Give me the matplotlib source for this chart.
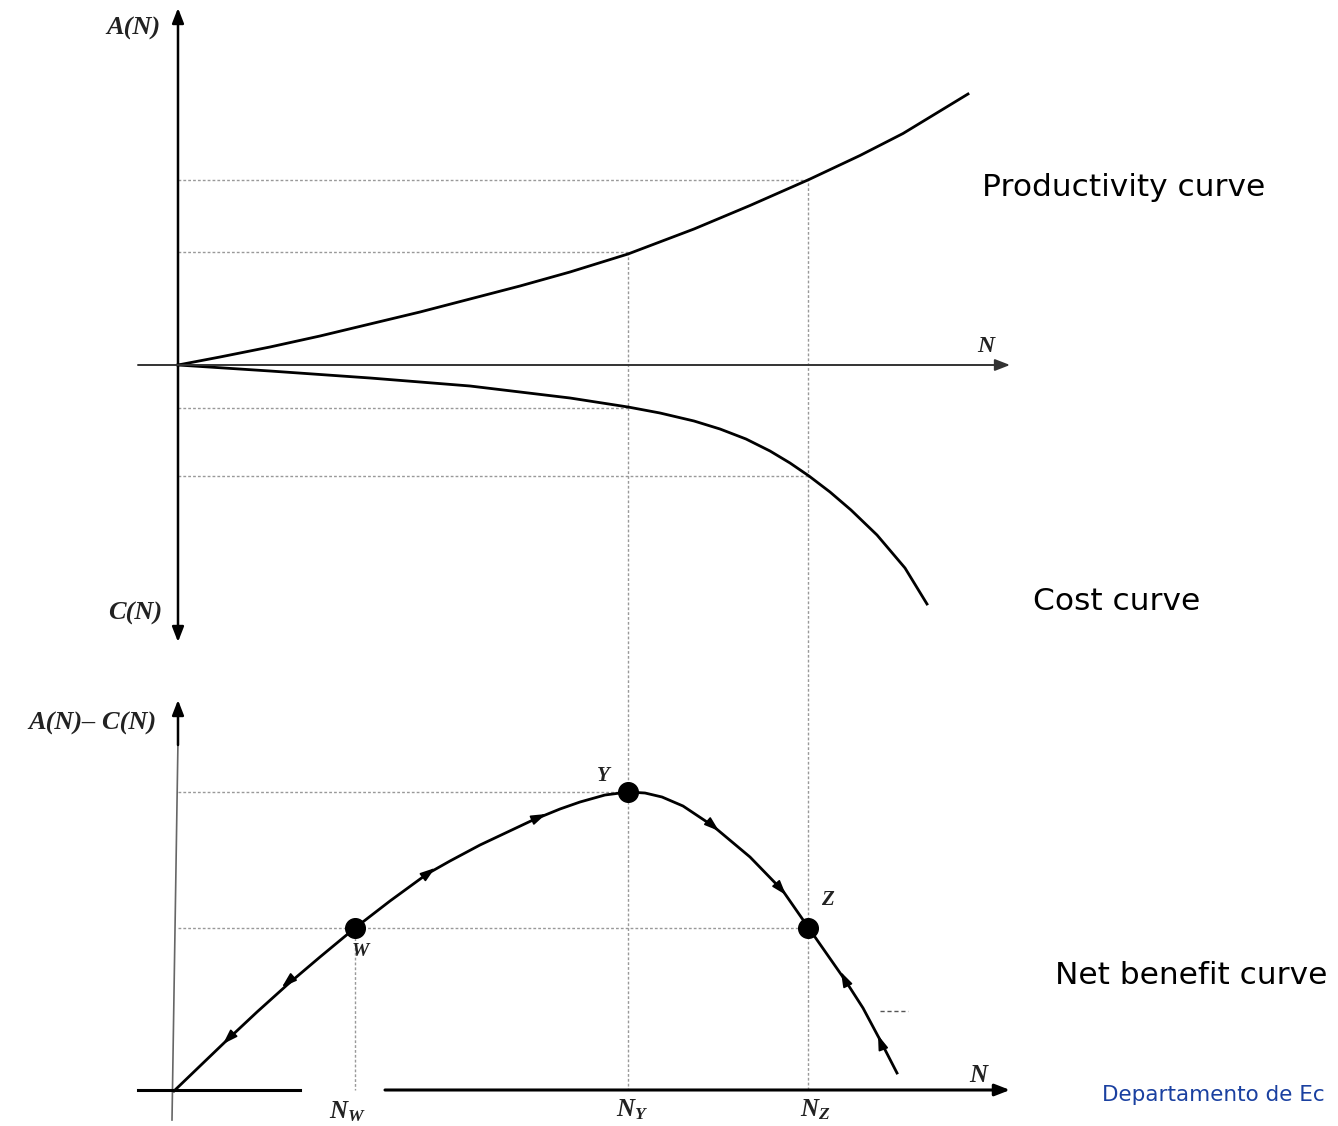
import matplotlib.pyplot as plt
import numpy as np

plt.rcParams['mathtext.fontset'] = 'custom'
plt.rcParams['mathtext.it'] = 'Liberation Serif:italic:bold'
plt.rcParams['mathtext.rm'] = 'Liberation Serif:bold'

# Curve points (pixel coordinates, y grows downward)
prod_x = [178, 220, 270, 320, 370, 420, 470, 520, 570, 628, 694, 750, 809, 860, 903, 968]
prod_y = [365, 357, 347, 336, 324, 312, 299, 286, 272, 254, 229, 205.5, 179.5, 155.5, 133.5, 94]

cost_x = [178, 270, 370, 470, 570, 628, 660, 694, 720, 746, 770, 790, 809, 830,
          851, 877, 905, 927]
cost_y = [365, 371, 378, 386, 398, 407, 413, 421, 429, 439, 451, 463, 476, 492,
          510, 535, 568, 604]

net_x = [174, 200, 225, 257, 287, 320, 355, 390, 427, 450, 480, 533, 560, 580, 605, 628,
         645, 662, 683, 713, 750, 783, 808, 845, 863, 879, 897]
net_y = [1091, 1066, 1042, 1012, 985, 957, 928, 901, 874, 861, 845, 820, 809, 802, 795, 792,
         793, 797, 806, 826, 857, 891, 927, 980, 1008, 1038, 1073]

# Flow arrows along the net benefit curve: (x, y, dx, dy)
arrows = [(290, 980, -8, 7), (230, 1037, -7, 7), (427, 874, 8, -6),
          (537, 818, 9, -4), (712, 825, 7, 6), (780, 888, 6, 7),
          (845, 980, -4, -8), (881, 1043, -3, -8)]

# Reference levels
level_x = [355, 628, 808]
level_y = [928, 792, 928]

fig = plt.figure(figsize=(13.38, 11.26), dpi=100)
ax = fig.add_axes([0, 0, 1, 1])
ax.set_xlim(0, 1338)
ax.set_ylim(1126, 0)
ax.axis('off')

lw_axis = 1.8
arrow_kw = dict(arrowstyle='-|>,head_length=0.9,head_width=0.35', color='black',
                lw=lw_axis, shrinkA=0, shrinkB=0)

# top panel axes
ax.annotate('', xy=(178, 8), xytext=(178, 365), arrowprops=arrow_kw)
ax.annotate('', xy=(178, 642), xytext=(178, 365), arrowprops=arrow_kw)
ax.annotate('', xy=(1010, 365), xytext=(138, 365), arrowprops=dict(arrow_kw, lw=1.4, color='#333333'))

# bottom panel axes
ax.plot([172, 178], [1120, 740], color='#666666', lw=1.2)
ax.annotate('', xy=(178, 700), xytext=(178, 745), arrowprops=arrow_kw)
ax.plot([138, 300], [1090, 1090], color='black', lw=2.2)
ax.annotate('', xy=(1010, 1090), xytext=(385, 1090), arrowprops=dict(arrow_kw, lw=2.2))

dot_kw = dict(color='#999999', lw=1.0, ls=(0, (2, 1.5)))
# top dotted guides
ax.plot([178, 808], [180, 180], **dot_kw)
ax.plot([178, 628], [252, 252], **dot_kw)
ax.plot([178, 628], [408, 408], **dot_kw)
ax.plot([178, 808], [476, 476], **dot_kw)
ax.plot([628, 628], [252, 1090], **dot_kw)
ax.plot([808, 808], [178, 1090], **dot_kw)
# bottom dotted guides
ax.plot([178, 628], [792, 792], **dot_kw)
ax.plot([178, 808], [928, 928], **dot_kw)
ax.plot([355, 355], [928, 1090], **dot_kw)
ax.plot([880, 908], [1011, 1011], color='#555555', lw=1.0, ls=(0, (3, 2)))

# curves
ax.plot(prod_x, prod_y, color='black', lw=2)
ax.plot(cost_x, cost_y, color='black', lw=2)
ax.plot(net_x, net_y, color='black', lw=2)

for x, y, dx, dy in arrows:
    ax.annotate('', xy=(x + dx, y + dy), xytext=(x, y),
                arrowprops=dict(arrowstyle='-|>,head_length=0.9,head_width=0.3',
                                color='black', lw=1.2, shrinkA=0, shrinkB=0))

ax.scatter(level_x, level_y, s=200, color='black', zorder=5)

# math-style labels
mfont = dict(family='Liberation Serif', style='italic', weight='bold', color='#222222')
ax.text(133, 28, 'A(N)', fontsize=19, ha='center', va='center', **mfont)
ax.text(135, 613, 'C(N)', fontsize=19, ha='center', va='center', **mfont)
ax.text(92, 723, 'A(N)– C(N)', fontsize=19, ha='center', va='center', **mfont)
ax.text(986, 347, 'N', fontsize=17, ha='center', va='center', **mfont)
ax.text(978, 1075, 'N', fontsize=18, ha='center', va='center', **mfont)
ax.text(603, 776, 'Y', fontsize=15, ha='center', va='center', **mfont)
ax.text(827, 900, 'Z', fontsize=15, ha='center', va='center', **mfont)
ax.text(360, 952, 'W', fontsize=14, ha='center', va='center', **mfont)
ax.text(347, 1112, r'$N_W$', fontsize=18, ha='center', va='center', color='#222222')
ax.text(632, 1110, r'$N_Y$', fontsize=18, ha='center', va='center', color='#222222')
ax.text(815, 1110, r'$N_Z$', fontsize=18, ha='center', va='center', color='#222222')

# curve names
ax.text(982, 187, 'Productivity curve', fontsize=22.5, ha='left', va='center')
ax.text(1033, 601, 'Cost curve', fontsize=22.5, ha='left', va='center')
ax.text(1055, 975, 'Net benefit curve', fontsize=22.5, ha='left', va='center')
ax.text(1102, 1095, 'Departamento de Ec', fontsize=15.5, color='#1a40a0',
        ha='left', va='center')

fig.savefig('out.png', dpi=100)
